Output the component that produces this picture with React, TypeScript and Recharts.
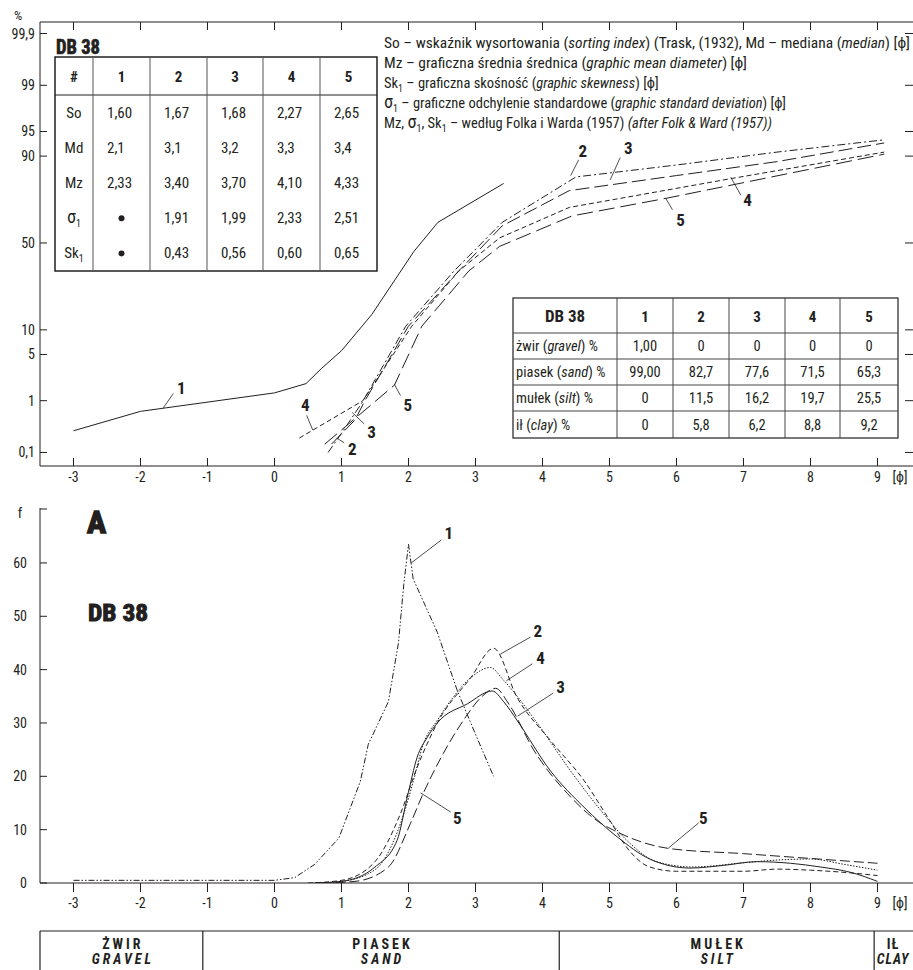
import React from 'react';
import { LineChart, Line, XAxis, YAxis, ReferenceLine, ReferenceDot } from 'recharts';

const FONT = '"Liberation Sans Narrow", "Arial Narrow", "Roboto Condensed", Roboto, "Liberation Sans", sans-serif';
const INK = '#231f20';

// ---------- shared phi axis ----------
const phiTicks = [-3, -2, -1, 0, 1, 2, 3, 4, 5, 6, 7, 8, 9];
const phiDomain: [number, number] = [-3.5, 9.53];

// ---------- top chart: cumulative curves (phi, percent) ----------
const cumTicks = [0.1, 1, 5, 10, 50, 90, 95, 99, 99.9];
const cumTickLabels = ['0,1', '1', '5', '10', '50', '90', '95', '99', '99,9'];

const cum1 = [
  { phi: -3, p: 0.28 }, { phi: -2, p: 0.65 }, { phi: 0, p: 1.35 }, { phi: 0.47, p: 1.9 },
  { phi: 0.7, p: 3.2 }, { phi: 1.0, p: 5.6 }, { phi: 1.45, p: 14.5 }, { phi: 2.08, p: 45 },
  { phi: 2.44, p: 62 }, { phi: 3.42, p: 81 },
];
const cum2 = [
  { phi: 0.8, p: 0.1 }, { phi: 1.0, p: 0.25 }, { phi: 1.3, p: 0.9 }, { phi: 1.96, p: 11 },
  { phi: 2.68, p: 34 }, { phi: 3.4, p: 62 }, { phi: 4.5, p: 83.5 }, { phi: 6, p: 87.5 },
  { phi: 7.5, p: 91 }, { phi: 9.1, p: 93.6 },
];
const cum3 = [
  { phi: 0.85, p: 0.15 }, { phi: 1.2, p: 0.45 }, { phi: 1.35, p: 1 }, { phi: 2.0, p: 11 },
  { phi: 2.75, p: 34 }, { phi: 3.4, p: 60 }, { phi: 4.4, p: 78 }, { phi: 6, p: 84 },
  { phi: 7.5, p: 88.5 }, { phi: 9.1, p: 93 },
];
const cum4 = [
  { phi: 0.37, p: 0.2 }, { phi: 1.32, p: 1 }, { phi: 2.05, p: 11 }, { phi: 2.75, p: 34 },
  { phi: 3.36, p: 53 }, { phi: 4.4, p: 70 }, { phi: 6.84, p: 83 }, { phi: 9.1, p: 91 },
];
const cum5 = [
  { phi: 0.75, p: 0.15 }, { phi: 1.79, p: 1.8 }, { phi: 2.2, p: 11 }, { phi: 2.9, p: 34 },
  { phi: 3.36, p: 48 }, { phi: 4.44, p: 65.5 }, { phi: 5.86, p: 74.6 }, { phi: 9.1, p: 90.5 },
];

// ---------- bottom chart: frequency curves (phi, f) ----------
const freqTicks = [0, 10, 20, 30, 40, 50, 60];
const freq1 = [
  { phi: -3, f: 0.5 }, { phi: -2, f: 0.5 }, { phi: -1, f: 0.5 }, { phi: 0, f: 0.5 }, { phi: 0.3, f: 1 },
  { phi: 0.6, f: 3.5 }, { phi: 0.96, f: 8.4 }, { phi: 1.28, f: 19 }, { phi: 1.4, f: 26 },
  { phi: 1.55, f: 30 }, { phi: 1.7, f: 34 }, { phi: 1.85, f: 45 }, { phi: 1.93, f: 56 },
  { phi: 2.0, f: 63.5 }, { phi: 2.07, f: 57 }, { phi: 2.43, f: 47 }, { phi: 2.73, f: 36 },
  { phi: 3.03, f: 27 }, { phi: 3.27, f: 20 },
];
const freq2 = [
  { phi: 0.5, f: 0 }, { phi: 1.0, f: 0.5 }, { phi: 1.5, f: 4 }, { phi: 1.88, f: 13 }, { phi: 2.13, f: 21.7 },
  { phi: 2.43, f: 30 }, { phi: 2.93, f: 38.5 }, { phi: 3.27, f: 44 }, { phi: 3.62, f: 34.8 },
  { phi: 4.12, f: 26.7 }, { phi: 4.62, f: 19.2 }, { phi: 5.0, f: 11.8 }, { phi: 5.3, f: 6 },
  { phi: 5.6, f: 3 }, { phi: 6, f: 2.2 }, { phi: 7, f: 2.2 }, { phi: 7.5, f: 2.6 }, { phi: 8, f: 2.4 },
  { phi: 8.5, f: 2 }, { phi: 9, f: 1.4 },
];
const freq3 = [
  { phi: 0.6, f: 0 }, { phi: 1.0, f: 0.3 }, { phi: 1.5, f: 3 }, { phi: 1.83, f: 8 }, { phi: 1.98, f: 16 },
  { phi: 2.13, f: 23.6 }, { phi: 2.28, f: 27.3 }, { phi: 2.43, f: 30 }, { phi: 2.88, f: 33.6 },
  { phi: 3.25, f: 36 }, { phi: 3.42, f: 34 }, { phi: 3.62, f: 30.5 }, { phi: 4.12, f: 21 },
  { phi: 4.62, f: 14.2 }, { phi: 5.12, f: 8.6 }, { phi: 5.6, f: 4.5 }, { phi: 6.2, f: 2.8 },
  { phi: 6.7, f: 3.3 }, { phi: 7.2, f: 4 }, { phi: 7.7, f: 3.7 }, { phi: 8.15, f: 3 },
  { phi: 8.6, f: 2 }, { phi: 9, f: 0.3 },
];
const freq4 = [
  { phi: 0.6, f: 0 }, { phi: 1.0, f: 0.3 }, { phi: 1.5, f: 2.5 }, { phi: 1.93, f: 13 }, { phi: 2.07, f: 19 },
  { phi: 2.22, f: 26 }, { phi: 2.43, f: 30.5 }, { phi: 2.63, f: 34.2 }, { phi: 2.93, f: 38.5 },
  { phi: 3.22, f: 40.4 }, { phi: 3.42, f: 38 }, { phi: 3.92, f: 30 }, { phi: 4.42, f: 21 },
  { phi: 4.91, f: 13 }, { phi: 5.3, f: 7.5 }, { phi: 5.7, f: 4 }, { phi: 6.25, f: 3 },
  { phi: 7, f: 3.8 }, { phi: 7.5, f: 4.3 }, { phi: 8, f: 4.5 }, { phi: 8.5, f: 3.5 }, { phi: 9, f: 2.4 },
];
const freq5 = [
  { phi: 0.7, f: 0 }, { phi: 1.2, f: 0.3 }, { phi: 1.7, f: 3 }, { phi: 2.03, f: 11.2 }, { phi: 2.22, f: 16.8 },
  { phi: 2.52, f: 24.3 }, { phi: 2.82, f: 30.5 }, { phi: 3.1, f: 35 }, { phi: 3.3, f: 36.5 },
  { phi: 3.5, f: 33.5 }, { phi: 3.87, f: 24.9 }, { phi: 4.37, f: 16.8 }, { phi: 4.87, f: 11.2 },
  { phi: 5.06, f: 9.9 }, { phi: 5.5, f: 7.6 }, { phi: 5.87, f: 6.5 }, { phi: 7, f: 5.5 },
  { phi: 8, f: 4.6 }, { phi: 9, f: 3.7 },
];

// ---------- tables ----------
const statHeader = ['#', '1', '2', '3', '4', '5'];
const statNames = ['So', 'Md', 'Mz', 'σ', 'Sk'];
const statSubs = ['', '', '', '1', '1'];
const statSo = ['1,60', '1,67', '1,68', '2,27', '2,65'];
const statMd = ['2,1', '3,1', '3,2', '3,3', '3,4'];
const statMz = ['2,33', '3,40', '3,70', '4,10', '4,33'];
const statSigma = ['•', '1,91', '1,99', '2,33', '2,51'];
const statSk = ['•', '0,43', '0,56', '0,60', '0,65'];

const fracHeader = ['DB 38', '1', '2', '3', '4', '5'];
const fracNames = [['żwir (', 'gravel', ') %'], ['piasek (', 'sand', ') %'], ['mułek (', 'silt', ') %'], ['ił (', 'clay', ') %']];
const fracGravel = ['1,00', '0', '0', '0', '0'];
const fracSand = ['99,00', '82,7', '77,6', '71,5', '65,3'];
const fracSilt = ['0', '11,5', '16,2', '19,7', '25,5'];
const fracClay = ['0', '5,8', '6,2', '8,8', '9,2'];

const classNames = [['ŻWIR', 'GRAVEL'], ['PIASEK', 'SAND'], ['MUŁEK', 'SILT'], ['IŁ', 'CLAY']];
const classBounds = [-1.07, 4.25, 8.95];

// ---------- probability transform ----------
function probit(p: number): number {
  const a = [-3.969683028665376e1, 2.209460984245205e2, -2.759285104469687e2, 1.38357751867269e2, -3.066479806614716e1, 2.506628277459239];
  const b = [-5.447609879822406e1, 1.615858368580409e2, -1.556989798598866e2, 6.680131188771972e1, -1.328068155288572e1];
  const c = [-7.784894002430293e-3, -3.223964580411365e-1, -2.400758277161838, -2.549732539343734, 4.374664141464968, 2.938163982698783];
  const d = [7.784695709041462e-3, 3.224671290700398e-1, 2.445134176466509, 3.754408661907416];
  const pl = 0.02425;
  if (p < pl) {
    const q = Math.sqrt(-2 * Math.log(p));
    return (((((c[0] * q + c[1]) * q + c[2]) * q + c[3]) * q + c[4]) * q + c[5]) / ((((d[0] * q + d[1]) * q + d[2]) * q + d[3]) * q + 1);
  }
  if (p <= 1 - pl) {
    const q = p - 0.5;
    const r = q * q;
    return ((((((a[0] * r + a[1]) * r + a[2]) * r + a[3]) * r + a[4]) * r + a[5]) * q) / (((((b[0] * r + b[1]) * r + b[2]) * r + b[3]) * r + b[4]) * r + 1);
  }
  const q = Math.sqrt(-2 * Math.log(1 - p));
  return -(((((c[0] * q + c[1]) * q + c[2]) * q + c[3]) * q + c[4]) * q + c[5]) / ((((d[0] * q + d[1]) * q + d[2]) * q + d[3]) * q + 1);
}
const zOf = (pct: number) => probit(pct / 100);
const Z_MAX = 3.26;
const Z_MIN = -3.29;
const cumTickZ = cumTicks.map(zOf);
const toZ = (s: { phi: number; p: number }[]) => s.map((d) => ({ x: d.phi, z: zOf(d.p) }));
const toF = (s: { phi: number; f: number }[]) => s.map((d) => ({ x: d.phi, f: d.f }));

// annotations: [label, textPhi, textVal, fromPhi, fromVal, toPhi, toVal]
const cumNotes: [string, number, number, number, number, number, number][] = [
  ['1', -1.39, 1.6, -1.51, 1.32, -1.66, 0.75],
  ['2', 4.6, 91.3, 4.54, 89, 4.42, 84],
  ['3', 5.28, 92, 5.16, 89.6, 5.01, 82.4],
  ['4', 7.06, 73.9, 6.96, 76, 6.81, 83.4],
  ['5', 6.06, 63.3, 5.94, 68.8, 5.84, 74.5],
  ['4', 0.46, 0.84, 0.48, 0.55, 0.57, 0.29],
  ['5', 1.99, 0.84, 1.88, 1.22, 1.79, 1.85],
  ['3', 1.45, 0.27, 1.34, 0.38, 1.16, 0.62],
  ['2', 1.16, 0.12, 1.04, 0.16, 0.93, 0.2],
];
const freqNotes: [string, number, number, number, number, number, number][] = [
  ['1', 2.6, 65.6, 2.49, 64.3, 2.04, 60],
  ['2', 3.93, 47.2, 3.82, 46.1, 3.37, 42.9],
  ['4', 3.97, 42.2, 3.85, 41.1, 3.46, 37.9],
  ['3', 4.27, 36.75, 4.16, 35.6, 3.63, 31.3],
  ['5', 2.73, 12.2, 2.63, 13.3, 2.18, 16.9],
  ['5', 6.4, 12.2, 6.33, 11.25, 5.88, 6.56],
];

// ---------- geometry ----------
const PLOT_L = 40;
const PLOT_R = 913;
const TOP_T = 22;
const TOP_B = 466;
const BOT_H = 420;
const BOT_OFF = 500;
const BOT_AXIS = 383; // local
const F_MAX = 70.3;
const phiToX = (phi: number) => PLOT_L + ((phi - phiDomain[0]) / (phiDomain[1] - phiDomain[0])) * (PLOT_R - PLOT_L);

const numLabel = (v: number) => (v < 0 ? '-' + Math.abs(v) : String(v));

const TopXTick = (props: any) => {
  const { x, payload } = props;
  return (
    <g>
      <line x1={x} x2={x} y1={TOP_B} y2={TOP_B - 8} stroke={INK} strokeWidth={1} />
      <line x1={x} x2={x} y1={TOP_T} y2={TOP_T + 8} stroke={INK} strokeWidth={1} />
      <text x={x} y={TOP_B + 16} textAnchor="middle" fontSize={14} fontFamily={FONT} fill={INK}>
        {numLabel(payload.value)}
      </text>
    </g>
  );
};

const TopYTick = (props: any) => {
  const { y, payload } = props;
  let idx = 0;
  cumTickZ.forEach((z, i) => {
    if (Math.abs(z - payload.value) < 1e-6) idx = i;
  });
  return (
    <g>
      <line x1={PLOT_L} x2={PLOT_L + 7} y1={y} y2={y} stroke={INK} strokeWidth={1} />
      <line x1={PLOT_R - 8} x2={PLOT_R} y1={y} y2={y} stroke={INK} strokeWidth={1} />
      <text x={35} y={y + 5} textAnchor="end" fontSize={14} fontFamily={FONT} fill={INK}>
        {cumTickLabels[idx]}
      </text>
    </g>
  );
};

const BotXTick = (props: any) => {
  const { x, payload } = props;
  return (
    <g>
      <line x1={x} x2={x} y1={BOT_AXIS} y2={BOT_AXIS + 9} stroke={INK} strokeWidth={1} />
      <text x={x} y={BOT_AXIS + 25} textAnchor="middle" fontSize={14} fontFamily={FONT} fill={INK}>
        {numLabel(payload.value)}
      </text>
    </g>
  );
};

const BotYTick = (props: any) => {
  const { y, payload } = props;
  const isTop = payload.value > 65;
  return (
    <g>
      <line x1={PLOT_L} x2={PLOT_L + 7} y1={y} y2={y} stroke={INK} strokeWidth={1} />
      {!isTop && (
        <text x={27} y={y + 5} textAnchor="end" fontSize={14} fontFamily={FONT} fill={INK}>
          {payload.value}
        </text>
      )}
    </g>
  );
};

const noteLabel = (v: string) => ({ value: v, position: 'center' as const, fill: INK, fontSize: 17, fontWeight: 700, fontFamily: FONT });

function TopChart() {
  const lines: { d: { phi: number; p: number }[]; dash?: string }[] = [
    { d: cum1 },
    { d: cum2, dash: '8 3 2 3' },
    { d: cum3, dash: '14 5' },
    { d: cum4, dash: '5 3' },
    { d: cum5, dash: '16 6' },
  ];
  return (
    <LineChart width={913} height={500} margin={{ top: TOP_T, right: 0, bottom: 0, left: 0 }}>
      <XAxis type="number" dataKey="x" domain={phiDomain} ticks={phiTicks} height={34} tick={(p: any) => <TopXTick {...p} />} tickLine={false} axisLine={{ stroke: INK }} allowDataOverflow />
      <YAxis type="number" dataKey="z" domain={[Z_MIN, Z_MAX]} ticks={cumTickZ} width={40} tick={(p: any) => <TopYTick {...p} />} tickLine={false} axisLine={{ stroke: INK }} allowDataOverflow />
      <ReferenceLine y={Z_MAX} stroke={INK} strokeWidth={1} ifOverflow="extendDomain" />
      {lines.map((l, i) => (
        <Line key={i} data={toZ(l.d)} dataKey="z" type="linear" stroke={INK} strokeWidth={1} strokeDasharray={l.dash} dot={false} activeDot={false} isAnimationActive={false} />
      ))}
      {cumNotes.map((n, i) => (
        <ReferenceLine key={'s' + i} segment={[{ x: n[3], y: zOf(n[4]) }, { x: n[5], y: zOf(n[6]) }]} stroke={INK} strokeWidth={0.8} />
      ))}
      {cumNotes.map((n, i) => (
        <ReferenceDot key={'d' + i} x={n[1]} y={zOf(n[2])} r={0} fill="none" stroke="none" label={noteLabel(n[0])} />
      ))}
    </LineChart>
  );
}

function BottomChart() {
  const lines: { d: { phi: number; f: number }[]; dash?: string; type: 'linear' | 'monotone' }[] = [
    { d: freq1, dash: '6 2 1.5 2 1.5 2', type: 'linear' },
    { d: freq2, dash: '5 3', type: 'monotone' },
    { d: freq3, type: 'monotone' },
    { d: freq4, dash: '1.5 1.5', type: 'monotone' },
    { d: freq5, dash: '10 4', type: 'monotone' },
  ];
  return (
    <LineChart width={913} height={BOT_H} margin={{ top: 8, right: 0, bottom: 0, left: 0 }}>
      <XAxis type="number" dataKey="x" domain={phiDomain} ticks={phiTicks} height={BOT_H - 8 - (BOT_AXIS - 8)} tick={(p: any) => <BotXTick {...p} />} tickLine={false} axisLine={{ stroke: INK }} allowDataOverflow />
      <YAxis type="number" dataKey="f" domain={[0, F_MAX]} ticks={[...freqTicks, F_MAX]} width={40} tick={(p: any) => <BotYTick {...p} />} tickLine={false} axisLine={{ stroke: INK }} allowDataOverflow />
      {lines.map((l, i) => (
        <Line key={i} data={toF(l.d)} dataKey="f" type={l.type} stroke={INK} strokeWidth={1} strokeDasharray={l.dash} dot={false} activeDot={false} isAnimationActive={false} />
      ))}
      {freqNotes.map((n, i) => (
        <ReferenceLine key={'s' + i} segment={[{ x: n[3], y: n[4] }, { x: n[5], y: n[6] }]} stroke={INK} strokeWidth={0.8} />
      ))}
      {freqNotes.map((n, i) => (
        <ReferenceDot key={'d' + i} x={n[1]} y={n[2]} r={0} fill="none" stroke="none" label={noteLabel(n[0])} />
      ))}
    </LineChart>
  );
}

function Overlay() {
  const sc = [55, 93, 150, 207, 263, 320, 377];
  const sTop = 57;
  const sHead = 95;
  const sBot = 271;
  const rowH = (sBot - sHead) / 5;
  const statVals = [statSo, statMd, statMz, statSigma, statSk];
  const fc = [513, 617, 673, 729, 785, 840, 898];
  const fr = [298, 333, 359, 385, 411, 438];
  const fracVals = [fracGravel, fracSand, fracSilt, fracClay];
  const legendY = [48, 68, 88, 108, 128];
  const heavy = { fontWeight: 700, stroke: INK, strokeWidth: 0.7 } as any;
  const bx = classBounds.map(phiToX);
  const cells = [PLOT_L, ...bx, PLOT_R];
  return (
    <svg width={913} height={970} style={{ position: 'absolute', left: 0, top: 0, pointerEvents: 'none' }} fontFamily={FONT} fill={INK}>
      {/* axis titles */}
      <text x={18} y={20} textAnchor="middle" fontSize={13}>%</text>
      <text x={900} y={482} textAnchor="middle" fontSize={14}>[ϕ]</text>
      <text x={20} y={518} textAnchor="middle" fontSize={14}>f</text>
      <text x={900} y={908} textAnchor="middle" fontSize={14}>[ϕ]</text>

      {/* stats table */}
      <text x={56} y={54} fontSize={20} {...heavy} textLength={44} lengthAdjust="spacingAndGlyphs">DB 38</text>
      <rect x={sc[0]} y={sTop} width={sc[6] - sc[0]} height={sBot - sTop} fill="#fff" stroke={INK} strokeWidth={1.5} />
      <line x1={sc[0]} x2={sc[6]} y1={sHead} y2={sHead} stroke={INK} strokeWidth={1.2} />
      {sc.slice(1, 6).map((x, i) => (
        <line key={i} x1={x} x2={x} y1={sTop} y2={sBot} stroke="#555" strokeWidth={1} />
      ))}
      {statHeader.map((h, i) => (
        <text key={i} x={(sc[i] + sc[i + 1]) / 2} y={82} textAnchor="middle" fontSize={15} fontWeight={700}>{h}</text>
      ))}
      {statNames.map((n, r) => {
        const cy = sHead + rowH * (r + 0.5) + 5;
        return (
          <g key={r}>
            <text x={74} y={cy} textAnchor="middle" fontSize={n === 'σ' ? 18 : 15}>
              {n}
              {statSubs[r] ? <tspan fontSize={10} dy={4}>{statSubs[r]}</tspan> : null}
            </text>
            {statVals[r].map((v, c) =>
              v === '•' ? (
                <circle key={c} cx={(sc[c + 1] + sc[c + 2]) / 2} cy={cy - 5} r={3} fill={INK} />
              ) : (
                <text key={c} x={sc[c + 1] + 14} y={cy} fontSize={15}>{v}</text>
              )
            )}
          </g>
        );
      })}

      {/* legend */}
      <text x={384} y={legendY[0]} fontSize={14.5} textLength={526} lengthAdjust="spacingAndGlyphs">
        So – wskaźnik wysortowania (<tspan fontStyle="italic">sorting index</tspan>) (Trask, (1932), Md – mediana (<tspan fontStyle="italic">median</tspan>) [ϕ]
      </text>
      <text x={384} y={legendY[1]} fontSize={14.5} textLength={363} lengthAdjust="spacingAndGlyphs">
        Mz – graficzna średnia średnica (<tspan fontStyle="italic">graphic mean diameter</tspan>) [ϕ]
      </text>
      <text x={384} y={legendY[2]} fontSize={14.5}>
        Sk<tspan fontSize={10} dy={4}>1</tspan><tspan dy={-4}> – graficzna skośność (</tspan><tspan fontStyle="italic">graphic skewness</tspan>) [ϕ]
      </text>
      <text x={384} y={legendY[3]} fontSize={14.5}>
        <tspan fontSize={18}>σ</tspan><tspan fontSize={10} dy={4}>1</tspan><tspan dy={-4}> – graficzne odchylenie standardowe (</tspan><tspan fontStyle="italic">graphic standard deviation</tspan>) [ϕ]
      </text>
      <text x={384} y={legendY[4]} fontSize={14.5}>
        Mz, <tspan fontSize={18}>σ</tspan><tspan fontSize={10} dy={4}>1</tspan><tspan dy={-4}>, Sk</tspan><tspan fontSize={10} dy={4}>1</tspan><tspan dy={-4}> – według Folka i Warda (1957) </tspan><tspan fontStyle="italic">(after Folk &amp; Ward (1957))</tspan>
      </text>

      {/* fractions table */}
      <rect x={fc[0]} y={fr[0]} width={fc[6] - fc[0]} height={fr[5] - fr[0]} fill="#fff" stroke={INK} strokeWidth={1.2} />
      {fr.slice(1, 5).map((y, i) => (
        <line key={i} x1={fc[0]} x2={fc[6]} y1={y} y2={y} stroke="#444" strokeWidth={1} />
      ))}
      {fc.slice(1, 6).map((x, i) => (
        <line key={i} x1={x} x2={x} y1={fr[0]} y2={fr[5]} stroke="#444" strokeWidth={1} />
      ))}
      {fracHeader.map((h, i) => (
        <text key={i} x={(fc[i] + fc[i + 1]) / 2} y={(fr[0] + fr[1]) / 2 + 6} textAnchor="middle" fontSize={i === 0 ? 17 : 15} fontWeight={700}>{h}</text>
      ))}
      {fracNames.map((n, r) => {
        const cy = (fr[r + 1] + fr[r + 2]) / 2 + 5;
        return (
          <g key={r}>
            <text x={516} y={cy} fontSize={14.5}>
              {n[0]}<tspan fontStyle="italic">{n[1]}</tspan>{n[2]}
            </text>
            {fracVals[r].map((v, c) => (
              <text key={c} x={(fc[c + 1] + fc[c + 2]) / 2} y={cy} textAnchor="middle" fontSize={14.5}>{v}</text>
            ))}
          </g>
        );
      })}

      {/* bottom chart titles */}
      <text x={87} y={533} fontSize={32} {...heavy} strokeWidth={1.5}>A</text>
      <text x={88} y={621} fontSize={24} {...heavy} strokeWidth={1} textLength={60} lengthAdjust="spacingAndGlyphs">DB 38</text>

      {/* class strip */}
      <line x1={PLOT_L} x2={PLOT_R} y1={931} y2={931} stroke={INK} strokeWidth={1.2} />
      <line x1={PLOT_L} x2={PLOT_L} y1={931} y2={970} stroke={INK} strokeWidth={1.2} />
      {bx.map((x, i) => (
        <line key={i} x1={x} x2={x} y1={931} y2={970} stroke={INK} strokeWidth={1.2} />
      ))}
      {classNames.map((c, i) => {
        const cx = (cells[i] + cells[i + 1]) / 2 + (i === 3 ? -1 : 0);
        const ls = i === 3 ? 1 : 3;
        return (
          <g key={i}>
            <text x={cx + ls / 2} y={949} textAnchor="middle" fontSize={14} fontWeight={700} letterSpacing={ls}>{c[0]}</text>
            <text x={cx + ls / 2} y={964} textAnchor="middle" fontSize={14} fontWeight={700} fontStyle="italic" letterSpacing={ls}>{c[1]}</text>
          </g>
        );
      })}
    </svg>
  );
}

export default function App() {
  return (
    <div style={{ position: 'absolute', left: 0, top: 0, width: 913, height: 970, background: '#fff', fontFamily: FONT, overflow: 'hidden' }}>
      <div style={{ position: 'absolute', left: 0, top: 0 }}>
        <TopChart />
      </div>
      <div style={{ position: 'absolute', left: 0, top: BOT_OFF }}>
        <BottomChart />
      </div>
      <Overlay />
    </div>
  );
}
